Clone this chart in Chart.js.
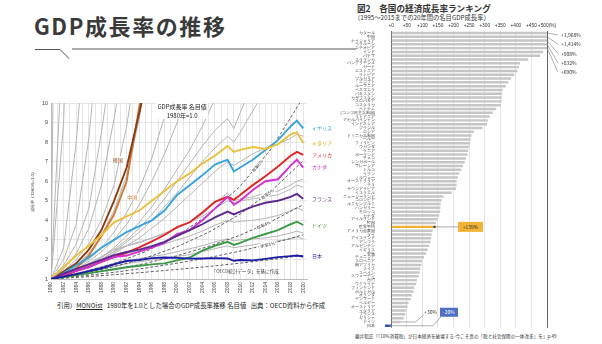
<!DOCTYPE html>
<html lang="ja">
<head>
<meta charset="utf-8">
<title>GDP成長率の推移</title>
<script src="https://cdn.jsdelivr.net/npm/chart.js@4.4.1/dist/chart.umd.min.js"></script>
<style>
  html, body { margin: 0; padding: 0; background: #fff; }
  body {
    width: 602px; height: 344px; position: relative; overflow: hidden;
    font-family: "Noto Sans CJK JP", "Noto Sans", sans-serif; color: #333;
  }
  .title { position: absolute; left: 34px; top: 9px; font-size: 22px; font-weight: 700;
           letter-spacing: 1.6px; color: #3a3a3a; white-space: nowrap; }
  .rule { position: absolute; left: 0; top: 0; }
  #growth { position: absolute; left: 30px; top: 96px; }
  .cite { position: absolute; left: 57px; top: 301px; font-size: 6.4px; white-space: nowrap; color: #222; }
  .cite u { text-decoration: underline; }
  .rtitle { position: absolute; left: 357px; top: 2px; font-size: 8.6px; font-weight: 700; white-space: nowrap; }
  .rsub { position: absolute; left: 354px; top: 13px; font-size: 6.3px; white-space: nowrap; }
  #ranking { position: absolute; left: 340px; top: 20px; }
  .rnote { position: absolute; left: 355px; top: 333px; font-size: 4.6px; white-space: nowrap; }
</style>
</head>
<body>
<div class="title">GDP成長率の推移</div>
<svg class="rule" width="602" height="70">
  <polyline points="35,49.5 60,49.5 69,58.5" fill="none" stroke="#555" stroke-width="1"/>
  <line x1="72" y1="49" x2="356" y2="49" stroke="#555" stroke-width="1"/>
</svg>

<canvas id="growth" width="305" height="203"></canvas>
<div class="cite">引用）<u>MONOist</u>&nbsp;&nbsp;&nbsp;1980年を1.0とした場合のGDP成長率推移 名目値&nbsp;&nbsp;&nbsp;出典：OECD資料から作成</div>

<div class="rtitle">図2　各国の経済成長率ランキング</div>
<div class="rsub">（1995～2015までの20年間の名目GDP成長率）</div>
<canvas id="ranking" width="262" height="312"></canvas>
<div class="rnote">藤井聡氏「「10%消費税」が日本経済を破壊する-今こそ真の「税と社会保障の一体改革」を」p.49</div>

<script>
// ---- left: nominal GDP, 1980 = 1.0 ----
const years = [1980, 1982, 1984, 1986, 1988, 1990, 1992, 1994, 1996, 1998, 2000, 2002,
               2004, 2006, 2008, 2009, 2010, 2012, 2014, 2016, 2018, 2019, 2020];

const uk      = [1, 1.3, 1.7, 2.1, 2.6, 3.0, 3.4, 3.7, 4.0, 4.5, 5.3, 5.8, 6.3, 6.85, 7.1, 6.5, 6.7, 7.1, 7.6, 8.1, 8.8, 9.1, 8.7];
const italy   = [1, 1.6, 2.2, 2.7, 3.25, 3.9, 4.2, 4.5, 5.0, 5.5, 6.0, 6.4, 6.9, 7.3, 7.8, 7.5, 7.6, 7.75, 7.65, 7.9, 8.4, 8.5, 7.95];
const usa     = [1, 1.15, 1.42, 1.62, 1.87, 2.12, 2.35, 2.62, 2.92, 3.25, 3.65, 3.9, 4.4, 4.95, 5.2, 5.05, 5.3, 5.8, 6.25, 6.75, 7.3, 7.5, 7.35];
const canada  = [1, 1.22, 1.42, 1.6, 1.9, 2.12, 2.2, 2.4, 2.6, 2.85, 3.3, 3.5, 4.0, 4.6, 5.2, 4.8, 5.0, 5.55, 6.0, 6.1, 6.8, 7.1, 6.7];
const france  = [1, 1.28, 1.52, 1.75, 1.98, 2.22, 2.38, 2.5, 2.68, 2.9, 3.2, 3.5, 3.8, 4.15, 4.45, 4.3, 4.45, 4.7, 4.9, 5.0, 5.2, 5.35, 5.1];
const germany = [1, 1.1, 1.2, 1.3, 1.4, 1.5, 1.6, 1.68, 1.75, 1.8, 1.95, 2.1, 2.45, 2.7, 2.9, 2.74, 2.85, 3.1, 3.3, 3.5, 3.8, 3.93, 3.76];
const japan   = [1, 1.12, 1.25, 1.4, 1.55, 1.75, 1.92, 1.97, 2.07, 2.1, 2.08, 2.04, 2.05, 2.07, 2.05, 1.93, 1.97, 1.95, 2.03, 2.12, 2.17, 2.2, 2.15];
const korea   = [1, 1.38, 1.8, 2.5, 3.5, 5.0, 6.7, 9.5, 12.5];
const china   = [1, 1.15, 1.55, 2.2, 3.2, 4.3, 6.0, 9.8, 14];

// other OECD members, drawn in grey (series stop once they leave the plot)
const others = [
  [1, 60],
  [1, 14],
  [1, 9, 30],
  [1, 2.6, 8, 16],
  [1, 2.0, 3.8, 8.2, 15],
  [1, 1.7, 2.8, 4.6, 8.5, 13],
  [1, 1.5, 2.3, 3.6, 5.8, 9.2, 13],
  [1, 1.4, 2.0, 2.8, 4.0, 5.8, 8.8, 13],
  [1, 1.3, 1.7, 2.3, 3.2, 4.5, 6.3, 9.2, 13],
  [1, 1.25, 1.6, 2.0, 2.6, 3.4, 4.4, 5.6, 7.2, 9.3, 12],
  [1, 1.2, 1.5, 1.9, 2.4, 3.0, 3.8, 4.8, 6.0, 7.4, 9.0, 11],
  [1, 1.15, 1.4, 1.7, 2.1, 2.6, 3.2, 3.9, 4.7, 5.6, 6.6, 7.6, 8.8, 10.2, 11.5],
  [1, 1.2, 1.45, 1.75, 2.1, 2.5, 3.0, 3.6, 4.3, 5.1, 6.0, 6.9, 7.8, 8.6, 9.2, 8.7, 9.5, 11],
  [1, 1.2, 1.4, 1.7, 2.0, 2.4, 2.9, 3.4, 4.0, 4.7, 5.4, 6.2, 7.0, 7.7, 8.3, 8.0, 8.5, 9.6, 10.7],
  [1, 1.18, 1.4, 1.65, 1.95, 2.3, 2.7, 3.1, 3.6, 4.1, 4.7, 5.3, 5.9, 6.5, 7.0, 6.8, 7.0, 7.4, 7.7, 7.9, 8.2, 8.4, 8.3],
  [1, 1.2, 1.45, 1.7, 2.0, 2.4, 2.7, 2.9, 3.1, 3.3, 3.6, 3.9, 4.3, 4.9, 5.4, 5.0, 5.1, 5.2, 5.4, 5.5, 5.8, 6.0, 6.1],
  [1, 1.25, 1.5, 1.8, 2.15, 2.5, 2.7, 2.85, 3.1, 3.35, 3.6, 3.9, 4.2, 4.6, 5.0, 4.9, 5.0, 5.1, 5.2, 5.3, 5.6, 5.8, 5.7],
  [1, 1.2, 1.4, 1.6, 1.85, 2.1, 2.3, 2.45, 2.6, 2.8, 3.0, 3.2, 3.45, 3.75, 4.0, 3.9, 3.95, 4.0, 4.1, 4.25, 4.5, 4.65, 4.5],
  [1, 1.15, 1.3, 1.45, 1.62, 1.8, 1.95, 2.05, 2.15, 2.25, 2.4, 2.55, 2.7, 2.9, 3.05, 2.95, 3.0, 3.05, 3.1, 3.2, 3.35, 3.45, 3.35],
  [1, 1.12, 1.25, 1.38, 1.5, 1.65, 1.78, 1.88, 1.97, 2.05, 2.15, 2.25, 2.4, 2.55, 2.7, 2.6, 2.65, 2.75, 2.85, 2.95, 3.05, 3.15, 3.05]
];

// constant annual growth guides
const rateYears = [1980, 1985, 1990, 1995, 2000, 2005, 2010, 2015, 2020];
const rate6 = [1, 1.34, 1.79, 2.40, 3.21, 4.29, 5.74, 7.69, 10.29];
const rate5 = [1, 1.28, 1.63, 2.08, 2.65, 3.39, 4.32, 5.52, 7.04];
const rate4 = [1, 1.22, 1.48, 1.80, 2.19, 2.67, 3.24, 3.95, 4.80];
const rate3 = [1, 1.16, 1.34, 1.56, 1.81, 2.09, 2.43, 2.81, 3.26];
const rate2 = [1, 1.10, 1.22, 1.35, 1.49, 1.64, 1.81, 2.00, 2.21];

const named = [
  { name: '日本',     data: japan,   color: '#1b1ba6', tag: true },
  { name: 'ドイツ',   data: germany, color: '#3c9a46', tag: true },
  { name: 'フランス', data: france,  color: '#5b2a8c', tag: true },
  { name: 'カナダ',   data: canada,  color: '#d52fd6', tag: true },
  { name: 'アメリカ', data: usa,     color: '#e02424', tag: true },
  { name: 'イタリア', data: italy,   color: '#eac03c', tag: true, tagColor: '#d9a300' },
  { name: 'イギリス', data: uk,      color: '#35a4dc', tag: true },
  { name: '韓国',     data: korea,   color: '#8a3b12' },
  { name: '中国',     data: china,   color: '#cc7a35' }
];

const toPoints = arr => years.map((yr, i) => ({ x: yr, y: arr[i] ?? null }));
const ratePoints = arr => rateYears.map((yr, i) => ({ x: yr, y: arr[i] }));

const lineSets = [
  ...named.map(s => ({ label: s.name, data: toPoints(s.data), borderColor: s.color, borderWidth: 1.9 })),
  ...[rate6, rate5, rate4, rate3, rate2].map((r, i) => ({
    label: 'rate' + i, data: ratePoints(r), borderColor: '#3a3a3a', borderWidth: 0.8, borderDash: [3, 2]
  })),
  ...others.map((o, i) => ({ label: 'other' + i, data: toPoints(o), borderColor: '#b5b5b5', borderWidth: 1 }))
];

const rateTags = [
  { text: '年率6%', data: rate6, at: 2012.7 },
  { text: '年率5%', data: rate5, at: 2014.3 },
  { text: '年率4%', data: rate4, at: 2013.7 },
  { text: '年率3%', data: rate3, at: 2014.3 }
];

function boxedText(ctx, text, x, y, color, angle) {
  ctx.save();
  ctx.translate(x, y);
  ctx.rotate(angle || 0);
  const w = ctx.measureText(text).width;
  ctx.fillStyle = '#fff';
  ctx.fillRect(-w / 2 - 1, -3, w + 2, 6);
  ctx.fillStyle = color;
  ctx.textAlign = 'center';
  ctx.textBaseline = 'middle';
  ctx.fillText(text, 0, 0.3);
  ctx.restore();
}

const growthNotes = {
  id: 'growthNotes',
  afterDatasetsDraw(chart) {
    const { ctx, chartArea, scales: { x, y } } = chart;
    const font = size => size + 'px "Noto Sans CJK JP", sans-serif';
    ctx.save();

    // country names at the end of each highlighted line
    ctx.font = font(5);
    ctx.textBaseline = 'middle';
    named.filter(s => s.tag).forEach(s => {
      ctx.fillStyle = s.tagColor || s.color;
      ctx.fillText(s.name, chartArea.right + 5, y.getPixelForValue(s.data[s.data.length - 1]));
    });

    boxedText(ctx, '韓国', x.getPixelForValue(1990.6), y.getPixelForValue(7.1), '#8a3b12');
    boxedText(ctx, '中国', x.getPixelForValue(1992.9), y.getPixelForValue(5.2), '#cc7a35');

    // growth-rate guide captions, rotated along their dashed line
    ctx.font = font(4.3);
    rateTags.forEach(t => {
      let k = 0;
      while (rateYears[k + 1] < t.at) k++;
      const x0 = x.getPixelForValue(rateYears[k]), y0 = y.getPixelForValue(t.data[k]);
      const x1 = x.getPixelForValue(rateYears[k + 1]), y1 = y.getPixelForValue(t.data[k + 1]);
      const f = (t.at - rateYears[k]) / (rateYears[k + 1] - rateYears[k]);
      boxedText(ctx, t.text, x0 + (x1 - x0) * f, y0 + (y1 - y0) * f, '#333', Math.atan2(y1 - y0, x1 - x0));
    });

    // heading box
    ctx.font = font(6);
    const hx = x.getPixelForValue(2000.8), hy = y.getPixelForValue(9.8);
    ctx.fillStyle = '#fff';
    ctx.fillRect(hx - 26, hy - 5, 52, 17);
    ctx.fillStyle = '#222';
    ctx.textAlign = 'center';
    ctx.textBaseline = 'middle';
    ctx.fillText('GDP成長率 名目値', hx, hy);
    ctx.fillText('1980年=1.0', hx, hy + 8.5);

    ctx.font = font(4.6);
    boxedText(ctx, '「OECD統計データ」を基に作成', x.getPixelForValue(2010.8), y.getPixelForValue(1.42), '#333');
    ctx.restore();
  }
};

new Chart(document.getElementById('growth'), {
  type: 'line',
  data: { datasets: lineSets },
  options: {
    responsive: false,
    animation: false,
    layout: { padding: { left: 0, right: 28, top: 7, bottom: 0 } },
    elements: { point: { radius: 0 }, line: { tension: 0 } },
    plugins: { legend: { display: false }, tooltip: { enabled: false } },
    scales: {
      x: {
        type: 'linear', min: 1980, max: 2020.6,
        afterBuildTicks: s => { s.ticks = []; for (let v = 1980; v <= 2020; v++) s.ticks.push({ value: v }); },
        afterFit: s => { s.height = 20; },
        grid: { color: '#d6d6d6', lineWidth: 0.6, drawTicks: false },
        border: { color: '#bbb' },
        ticks: {
          autoSkip: false, minRotation: 90, maxRotation: 90, padding: 3,
          font: { size: 5 }, color: '#444',
          callback: v => (v % 2 === 0 ? String(v) : '')
        }
      },
      y: {
        min: 1, max: 10,
        afterFit: s => { s.width = 21; },
        grid: { color: '#d6d6d6', lineWidth: 0.6, drawTicks: false },
        border: { color: '#bbb' },
        title: { display: true, text: '成長率（1980年=1.0）', font: { size: 4.2 }, padding: 0, color: '#444' },
        ticks: { stepSize: 1, padding: 3, font: { size: 5.5 }, color: '#444' }
      }
    }
  },
  plugins: [growthNotes]
});

// ---- right: nominal GDP growth 1995-2015 (%) ----
const countries = [
  'カタール', '中国', 'ナイジェリア', 'ベラルーシ', 'エチオピア', 'インド', 'パナマ', 'スリランカ',
  'バングラデシュ', 'ガーナ', 'エストニア', 'ラトビア', 'ブルガリア', 'エジプト', 'ルーマニア', 'ベネズエラ',
  'パキスタン', 'カザフスタン', 'スロバキア', 'コスタリカ', 'ベトナム', '(コンゴ民主共和国)', 'リトアニア', 'アゼルバイジャン',
  'インドネシア', 'ブラジル', 'ロシア', 'ドミニカ共和国', 'ペルー', 'フィリピン', 'ウガンダ', 'ケニア',
  'ポーランド', 'チェコ', 'シンガポール', 'マレーシア', 'トルコ', 'イラン', 'ノルウェー', 'オーストラリア',
  'チリ', 'サウジアラビア', 'イスラエル', 'ニュージーランド', 'コロンビア', 'ルクセンブルク', 'ハンガリー', 'モロッコ',
  'カナダ', 'アイルランド', '韓国', '世界平均', 'アメリカ合衆国', 'タイ', 'アイスランド', 'アンゴラ',
  'アルゼンチン', 'イギリス', '香港', 'チュニジア', 'スロベニア', '南アフリカ', 'スイス', 'スペイン',
  'スウェーデン', '台湾', 'ウクライナ', 'フィンランド', 'ポルトガル', 'オランダ', 'デンマーク', 'ベルギー',
  'オーストリア', 'イタリア', 'フランス', 'ギリシャ', 'ドイツ', '日本'
];
const growth = [
  1968, 1414, 908, 832, 690, 488, 478, 440,
  413, 410, 405, 395, 385, 376, 368, 358,
  356, 355, 354, 352, 337, 326, 316, 310,
  307, 293, 265, 258, 255, 253, 250, 247,
  245, 240, 236, 230, 225, 219, 214, 210,
  210, 208, 194, 168, 162, 159, 158, 157,
  154, 148, 143, 139, 133, 130, 128, 126,
  122, 117, 112, 105, 99, 97, 93, 91,
  88, 82, 80, 74, 72, 66, 63, 56,
  52, 48, 45, 40, 30, -20
];
const rankTicks = [0, 50, 100, 150, 200, 250, 300, 350, 400, 450, 500];

const barColors = countries.map(c => c === '日本' ? '#3553b0' : c === '世界平均' ? '#efb12e' : '#c6c6c6');
const pct = v => (v < 0 ? '' : '+') + v.toLocaleString('en-US') + '%';

const rankNotes = {
  id: 'rankNotes',
  afterDatasetsDraw(chart) {
    const { ctx, chartArea, scales: { x, y } } = chart;
    const font = size => size + 'px "Noto Sans CJK JP", sans-serif';
    ctx.save();
    ctx.strokeStyle = '#777';
    ctx.lineWidth = 0.6;
    ctx.font = font(5);
    ctx.textBaseline = 'middle';
    ctx.fillStyle = '#333';

    // bars that run past +500%: value written beside the frame
    let k = 0;
    growth.forEach((v, i) => {
      if (v <= 500) return;
      const by = y.getPixelForValue(i), ly = chartArea.top + 4 + k * 9.3;
      ctx.beginPath();
      ctx.moveTo(chartArea.right, by);
      ctx.lineTo(chartArea.right + 11, ly);
      ctx.stroke();
      ctx.fillText(pct(v), chartArea.right + 14, ly);
      k++;
    });

    // world average
    const wi = countries.indexOf('世界平均');
    const wx = x.getPixelForValue(growth[wi]), wy = y.getPixelForValue(wi);
    ctx.beginPath();
    ctx.moveTo(wx, wy);
    ctx.lineTo(chartArea.left + 73, wy);
    ctx.stroke();
    ctx.fillStyle = '#333';
    ctx.beginPath();
    ctx.arc(wx, wy, 1.2, 0, Math.PI * 2);
    ctx.fill();
    ctx.fillStyle = '#f1b236';
    ctx.fillRect(chartArea.left + 73, wy - 5, 25, 10);
    ctx.fillStyle = '#333';
    ctx.textAlign = 'center';
    ctx.fillText(pct(growth[wi]), chartArea.left + 85.5, wy + 0.3);

    // Germany
    const gi = countries.indexOf('ドイツ');
    const gx = x.getPixelForValue(growth[gi]), gy = y.getPixelForValue(gi);
    ctx.beginPath();
    ctx.moveTo(gx, gy);
    ctx.lineTo(gx + 15, gy);
    ctx.lineTo(gx + 23, gy - 7);
    ctx.stroke();
    ctx.fillText(pct(growth[gi]), gx + 30, gy - 10);

    // Japan
    const ji = countries.indexOf('日本');
    const jy = y.getPixelForValue(ji), jx = x.getPixelForValue(0);
    ctx.beginPath();
    ctx.moveTo(jx, jy);
    ctx.lineTo(chartArea.left + 48, jy);
    ctx.lineTo(chartArea.left + 56, jy - 9);
    ctx.stroke();
    ctx.fillStyle = '#4d6fc4';
    ctx.fillRect(chartArea.left + 55, jy - 18, 18, 9);
    ctx.fillStyle = '#fff';
    ctx.fillText(pct(growth[ji]), chartArea.left + 64, jy - 13.2);
    ctx.restore();
  }
};

new Chart(document.getElementById('ranking'), {
  type: 'bar',
  data: {
    labels: countries,
    datasets: [{
      data: growth,
      backgroundColor: barColors,
      barPercentage: 0.65,
      categoryPercentage: 1,
      clip: 0
    }]
  },
  options: {
    indexAxis: 'y',
    responsive: false,
    animation: false,
    layout: { padding: { left: 0, right: 55, top: 0, bottom: 3 } },
    plugins: { legend: { display: false }, tooltip: { enabled: false } },
    scales: {
      x: {
        position: 'top', min: -20, max: 500,
        afterBuildTicks: s => { s.ticks = rankTicks.map(v => ({ value: v })); },
        afterFit: s => { s.height = 11; },
        border: { display: false },
        grid: {
          drawTicks: false,
          color: c => (c.tick && (c.tick.value === 0 || c.tick.value === 500) ? '#666' : '#d8d8d8'),
          lineWidth: c => (c.tick && (c.tick.value === 0 || c.tick.value === 500) ? 1 : 0.7)
        },
        ticks: {
          autoSkip: false, padding: 2, font: { size: 4.8 }, color: '#333', maxRotation: 0,
          callback: v => '+' + v + (v === 500 ? '(%)' : '')
        }
      },
      y: {
        afterFit: s => { s.width = 45; },
        border: { display: false },
        grid: { display: false },
        ticks: { autoSkip: false, padding: 2, font: { size: 3.9 }, color: '#333' }
      }
    }
  },
  plugins: [rankNotes]
});
</script>
</body>
</html>
